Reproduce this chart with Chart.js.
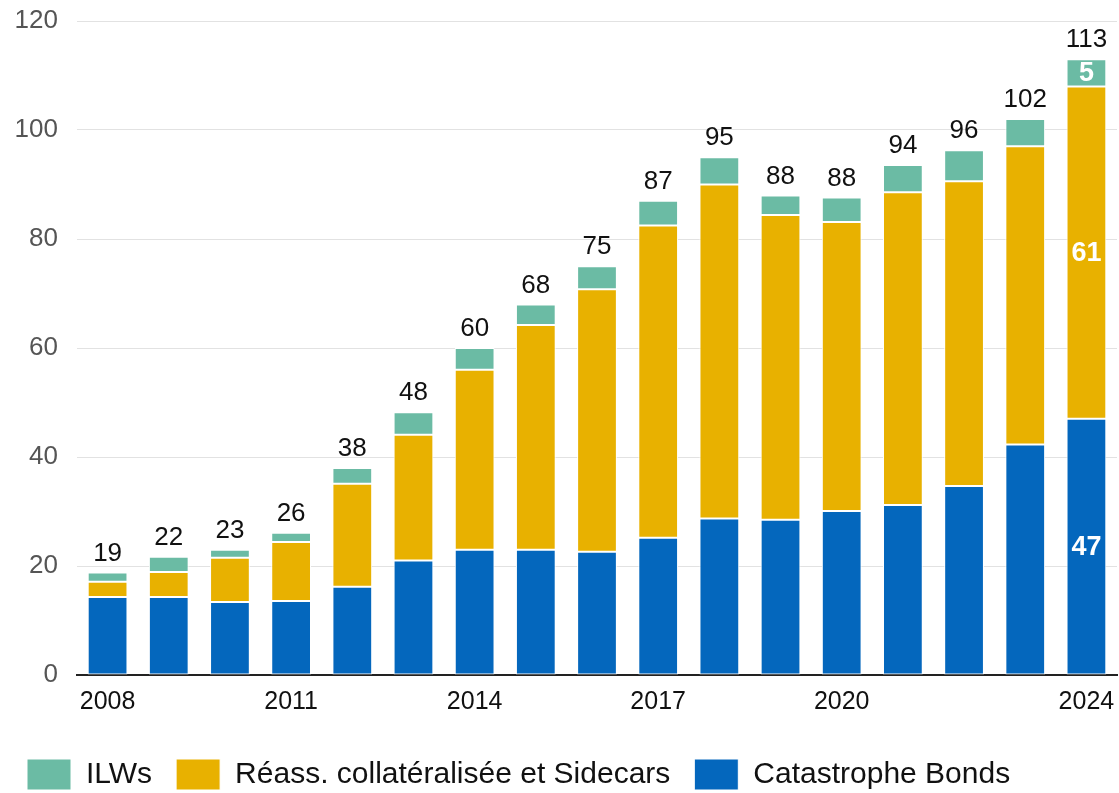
<!DOCTYPE html>
<html>
<head>
<meta charset="utf-8">
<script src="https://cdn.jsdelivr.net/npm/chart.js@4/dist/chart.umd.min.js"></script>
<style>
html,body{margin:0;padding:0;background:#fff;}
#wrap{width:1119px;height:793px;position:relative;}
</style>
</head>
<body>
<div id="wrap"><canvas id="c"></canvas></div>
<script>
const years = ['2008','2009','2010','2011','2012','2013','2014','2015','2016','2017','2018','2019','2020','2021','2022','2023','2024'];
const shownYears = ['2008','2011','2014','2017','2020','2024'];
const catBonds = [14.3,14.3,13.4,13.6,16.2,21.0,23.0,23.0,22.6,25.2,28.7,28.5,30.1,31.2,34.7,42.3,47];
const collateralized = [2.8,4.6,8.1,10.8,18.9,23.1,33.0,41.2,48.2,57.3,61.3,55.9,53.0,57.4,55.9,54.7,61];
const ilws = [1.7,2.8,1.5,1.7,2.9,4.1,4.0,3.8,4.2,4.5,5.0,3.6,4.5,5.0,5.7,5.0,5];
const yTicks = [0,20,40,60,80,100,120];
const innerLabelYear = '2024';

const FONT = "'Liberation Sans', Arial, sans-serif";

const labelPlugin = {
  id: 'stackLabels',
  afterDatasetsDraw(chart) {
    const ctx = chart.ctx;
    const metas = chart.data.datasets.map((d, i) => chart.getDatasetMeta(i));
    const yScale = chart.scales.y;
    ctx.save();
    years.forEach((yr, i) => {
      const total = chart.data.datasets.reduce((s, d) => s + d.data[i], 0);
      const topBar = metas[metas.length - 1].data[i];
      ctx.font = '26px ' + FONT;
      ctx.fillStyle = '#111';
      ctx.textAlign = 'center';
      ctx.textBaseline = 'bottom';
      ctx.fillText(String(Math.round(total)), topBar.x, yScale.getPixelForValue(total) - 6);
      if (yr === innerLabelYear) {
        ctx.fillStyle = '#fff';
        ctx.font = 'bold 27px ' + FONT;
        ctx.textBaseline = 'middle';
        let base = 0;
        chart.data.datasets.forEach((d) => {
          const v = d.data[i];
          const mid = yScale.getPixelForValue(base + v / 2);
          ctx.fillText(String(Math.round(v)), topBar.x, mid + 1);
          base += v;
        });
      }
    });
    ctx.restore();
  }
};

new Chart(document.getElementById('c'), {
  type: 'bar',
  data: {
    labels: years,
    datasets: [
      { label: 'Catastrophe Bonds', data: catBonds, backgroundColor: '#0467BD', borderColor: '#ffffff', borderWidth: 1, borderSkipped: false },
      { label: 'Réass. collatéralisée et Sidecars', data: collateralized, backgroundColor: '#E8B100', borderColor: '#ffffff', borderWidth: 1, borderSkipped: false },
      { label: 'ILWs', data: ilws, backgroundColor: '#6BBBA4', borderColor: '#ffffff', borderWidth: 1, borderSkipped: false }
    ]
  },
  options: {
    responsive: true,
    maintainAspectRatio: false,
    animation: false,
    datasets: { bar: { categoryPercentage: 1.0, barPercentage: 0.65 } },
    layout: { padding: { top: 21, right: 2, left: 3, bottom: -7 } },
    plugins: {
      tooltip: { enabled: false },
      legend: {
        position: 'bottom',
        align: 'start',
        reverse: true,
        labels: {
          boxWidth: 44,
          boxHeight: 31,
          padding: 24,
          color: '#111',
          font: { family: FONT, size: 30 }
        }
      }
    },
    scales: {
      x: {
        stacked: true,
        afterFit(axis) { axis.height = 60; axis.paddingLeft = 0; axis.paddingRight = 0; },
        grid: { display: false, drawTicks: false },
        border: { display: true, color: '#222', width: 2 },
        ticks: {
          autoSkip: false,
          maxRotation: 0,
          padding: 12,
          color: '#111',
          font: { family: FONT, size: 25 },
          callback: function(v, i) { return shownYears.includes(years[i]) ? years[i] : ''; }
        }
      },
      y: {
        stacked: true,
        min: 0,
        max: 120,
        afterBuildTicks(axis) { axis.ticks = yTicks.map(v => ({ value: v })); },
        afterFit(axis) { axis.width = 74; axis.paddingTop = 0; axis.paddingBottom = 0; },
        grid: { color: '#e2e2e2', lineWidth: 1, drawTicks: false },
        border: { display: false },
        ticks: {
          padding: 19,
          color: '#555',
          font: { family: FONT, size: 26 }
        }
      }
    }
  },
  plugins: [labelPlugin]
});
</script>
</body>
</html>
